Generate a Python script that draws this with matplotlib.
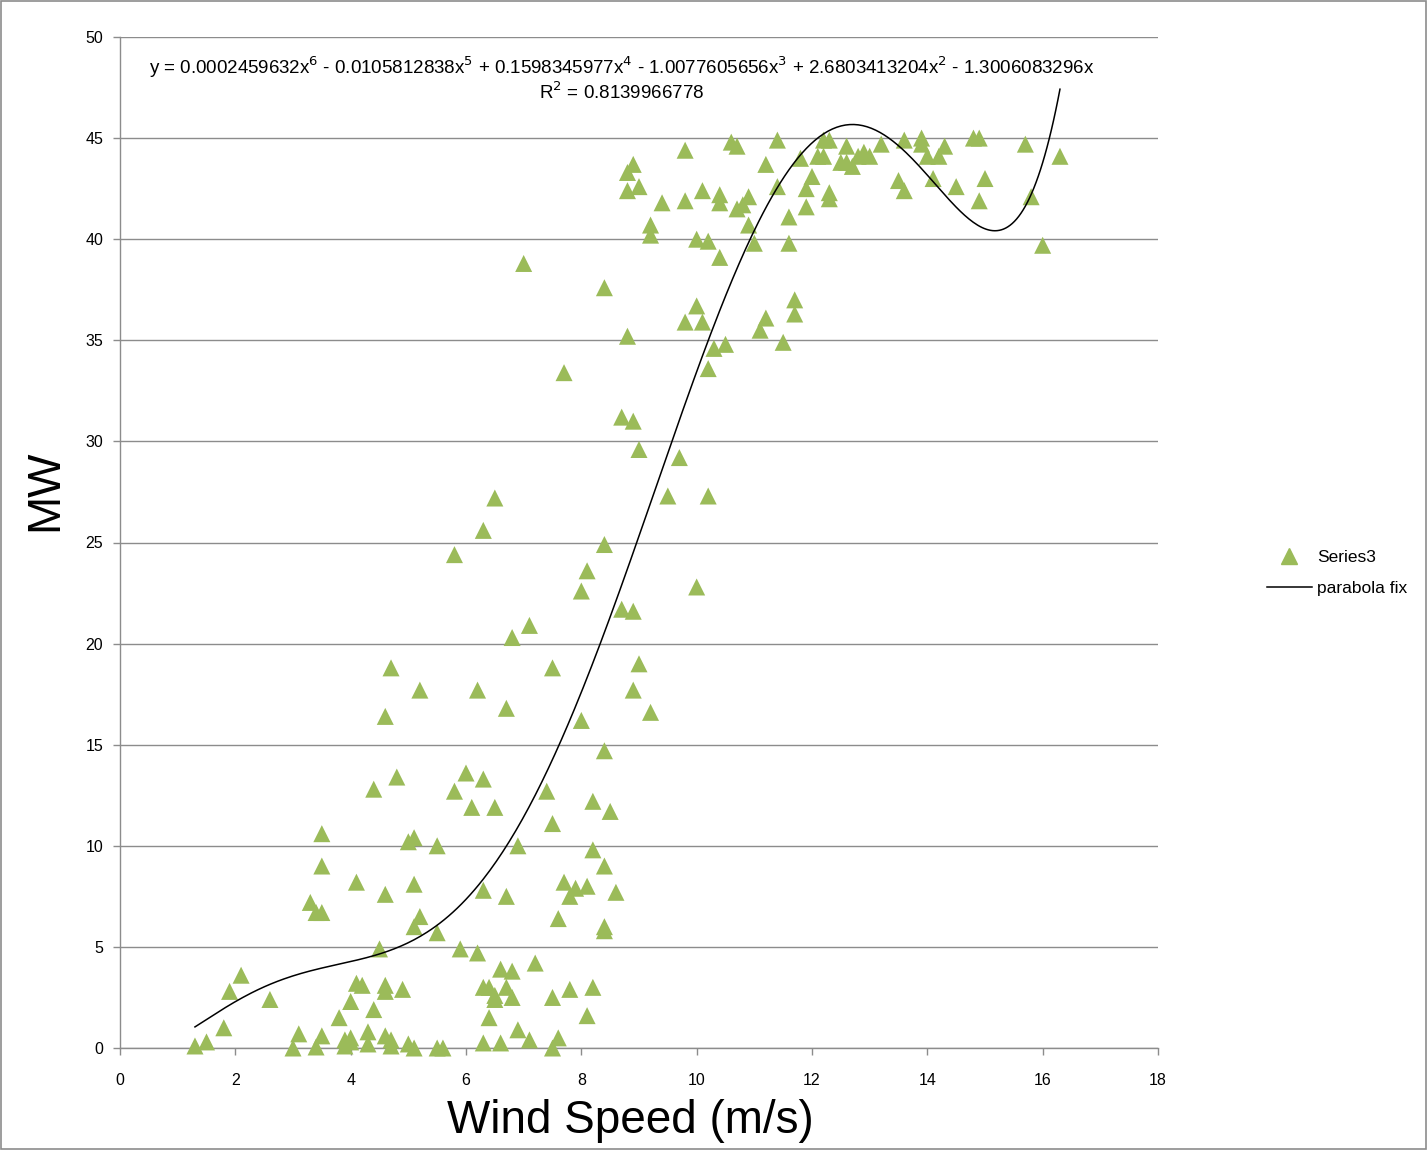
import numpy as np
import matplotlib
matplotlib.use("Agg")
import matplotlib.pyplot as plt
from matplotlib.patches import Rectangle
from matplotlib.lines import Line2D

# Data
wind_speed = [1.3, 1.5, 1.8, 1.9, 2.1, 2.6, 3.0, 3.1, 3.4, 3.5, 3.3, 3.4, 3.5, 3.5, 3.5,
              3.8, 3.9, 3.9, 4.0, 4.0, 4.0, 4.1, 4.1, 4.2, 4.3, 4.3, 4.4, 4.4, 4.5, 4.6,
              4.6, 4.6, 4.6, 4.6, 4.7, 4.7, 4.7, 4.8, 4.9, 5.0, 5.0, 5.1, 5.1, 5.1, 5.2,
              5.2, 5.1, 5.5, 5.5, 5.5, 5.6, 5.8, 5.8, 5.9, 6.0, 6.1, 6.2, 6.2, 6.3, 6.3,
              6.3, 6.3, 6.3, 6.4, 6.4, 6.5, 6.5, 6.5, 6.5, 6.6, 6.6, 6.7, 6.7, 6.7, 6.8,
              6.8, 6.8, 6.9, 6.9, 7.0, 7.1, 7.1, 7.2, 7.4, 7.5, 7.5, 7.5, 7.5, 7.6, 7.6,
              7.7, 7.7, 7.8, 7.8, 7.9, 8.0, 8.0, 8.1, 8.1, 8.1, 8.2, 8.2, 8.2, 8.4, 8.4,
              8.4, 8.4, 8.4, 8.4, 8.5, 8.6, 8.7, 8.7, 8.8, 8.8, 8.8, 8.9, 8.9, 8.9, 8.9,
              9.0, 9.0, 9.0, 9.2, 9.2, 9.2, 9.4, 9.5, 9.7, 9.8, 9.8, 9.8, 10.0, 10.0, 10.0,
              10.1, 10.1, 10.2, 10.2, 10.2, 10.3, 10.4, 10.4, 10.4, 10.5, 10.6, 10.7, 10.7,
              10.8, 10.9, 10.9, 11.0, 11.1, 11.2, 11.2, 11.4, 11.4, 11.5, 11.6, 11.6, 11.7,
              11.7, 11.8, 11.9, 11.9, 12.0, 12.1, 12.2, 12.2, 12.3, 12.3, 12.3, 12.5, 12.6,
              12.6, 12.7, 12.8, 12.9, 13.0, 13.2, 13.5, 13.6, 13.6, 13.9, 13.9, 14.0, 14.1,
              14.2, 14.3, 14.5, 14.8, 14.9, 14.9, 15.0, 15.7, 15.8, 16.0, 16.3]
power_mw = [0.1, 0.3, 1.0, 2.8, 3.6, 2.4, 0.0, 0.7, 0.05, 0.6, 7.2, 6.7, 6.7, 9.0, 10.6,
            1.5, 0.4, 0.1, 2.3, 0.3, 0.5, 8.2, 3.2, 3.1, 0.8, 0.2, 1.9, 12.8, 4.9, 7.6,
            16.4, 3.1, 2.8, 0.6, 0.4, 0.1, 18.8, 13.4, 2.9, 0.2, 10.2, 10.4, 8.1, 6.0, 6.5,
            17.7, 0.0, 10.0, 5.7, 0.0, 0.0, 24.4, 12.7, 4.9, 13.6, 11.9, 4.7, 17.7, 25.6, 7.8,
            13.3, 3.0, 0.25, 3.0, 1.5, 27.2, 11.9, 2.4, 2.6, 3.9, 0.25, 7.5, 16.8, 3.0, 20.3,
            3.8, 2.5, 10.0, 0.9, 38.8, 20.9, 0.4, 4.2, 12.7, 18.8, 11.1, 2.5, 0.0, 6.4, 0.5,
            33.4, 8.2, 7.5, 2.9, 7.9, 22.6, 16.2, 23.6, 8.0, 1.6, 12.2, 9.8, 3.0, 24.9, 37.6,
            14.7, 9.0, 6.0, 5.8, 11.7, 7.7, 31.2, 21.7, 35.2, 43.3, 42.4, 43.7, 31.0, 21.6, 17.7,
            42.6, 29.6, 19.0, 16.6, 40.7, 40.2, 41.8, 27.3, 29.2, 44.4, 41.9, 35.9, 36.7, 40.0, 22.8,
            35.9, 42.4, 39.9, 33.6, 27.3, 34.6, 41.8, 42.2, 39.1, 34.8, 44.8, 44.6, 41.5,
            41.7, 42.1, 40.7, 39.8, 35.5, 43.7, 36.1, 44.9, 42.6, 34.9, 41.1, 39.8, 37.0,
            36.3, 44.0, 42.5, 41.6, 43.1, 44.1, 44.1, 44.9, 44.9, 42.3, 42.0, 43.8, 44.6,
            43.8, 43.6, 44.1, 44.3, 44.1, 44.7, 42.9, 42.4, 44.9, 45.0, 44.7, 44.1, 43.0,
            44.1, 44.6, 42.6, 45.0, 45.0, 41.9, 43.0, 44.7, 42.1, 39.7, 44.1]

# Trendline coefficients shown on the chart (x^6 ... x^1)
coeffs = [0.0002459632, -0.0105812838, 0.1598345977, -1.0077605656, 2.6803413204, -1.3006083296, 0.0]
fit_x_range = [1.3, 16.3]
equation_text = ("y = 0.0002459632x$^{6}$ - 0.0105812838x$^{5}$ + 0.1598345977x$^{4}$ - 1.0077605656x$^{3}$ "
                 "+ 2.6803413204x$^{2}$ - 1.3006083296x")
r2_text = "R$^{2}$ = 0.8139966778"

x_ticks = [0, 2, 4, 6, 8, 10, 12, 14, 16, 18]
y_ticks = [0, 5, 10, 15, 20, 25, 30, 35, 40, 45, 50]

W, H = 1427, 1150
fig = plt.figure(figsize=(W / 100, H / 100), dpi=100)
fig.patch.set_facecolor("white")
ax = fig.add_axes([120 / W, 1 - 1048 / H, (1158 - 120) / W, (1048 - 37) / H])

green = "#9BBB59"
ax.scatter(wind_speed, power_mw, marker="^", s=150, color=green, edgecolors="none",
           zorder=3, label="Series3", clip_on=False)
xf = np.linspace(fit_x_range[0], fit_x_range[1], 400)
yf = np.polyval(coeffs, xf)
ax.plot(xf, yf, color="black", lw=1.1, zorder=4, label="parabola fix")

ax.set_xlim(0, 18)
ax.set_ylim(0, 50)
ax.set_xticks(x_ticks)
ax.set_yticks(y_ticks)
ax.yaxis.grid(True, color="#8c8c8c", lw=1.0)
ax.set_axisbelow(True)
for s in ["top", "right"]:
    ax.spines[s].set_visible(False)
for s in ["left", "bottom"]:
    ax.spines[s].set_color("#8c8c8c")
    ax.spines[s].set_linewidth(1.0)
ax.tick_params(axis="both", colors="#8c8c8c", labelcolor="black", labelsize=11.5,
               direction="out", length=5, width=1)
ax.tick_params(axis="x", pad=13)
ax.tick_params(axis="y", pad=7)
for lab in ax.get_xticklabels() + ax.get_yticklabels():
    lab.set_family(["Liberation Sans", "DejaVu Sans"])

ax.set_xlabel("Wind Speed (m/s)", fontsize=33, family=["Liberation Sans", "DejaVu Sans"], va="center")
ax.set_ylabel("MW", fontsize=33, family=["Liberation Sans", "DejaVu Sans"], va="center")
ax.xaxis.set_label_coords((630 - 120) / 1038, -(1121 - 1048) / 1011)
ax.yaxis.set_label_coords((45 - 120) / 1038, (1048 - 490) / 1011)

eqfont = ["Liberation Sans Narrow", "Liberation Sans", "DejaVu Sans"]
fig.text(622 / W, 1 - 67 / H, equation_text, ha="center", va="center", fontsize=13.5, family=eqfont)
fig.text(622 / W, 1 - 92 / H, r2_text, ha="center", va="center", fontsize=13.5, family=eqfont)

handles = [Line2D([], [], marker="^", color=green, linestyle="none", markersize=11),
           Line2D([], [], color="black", lw=1.1)]
leg = fig.legend(handles, ["Series3", "parabola fix"], loc="center left",
                 bbox_to_anchor=(1251 / W, 1 - 573 / H), frameon=False,
                 handlelength=2.6, handletextpad=0.3, labelspacing=0.9,
                 prop={"family": eqfont, "size": 12.5})

fig.patches.append(Rectangle((0.001, 0.001), 0.998, 0.998, transform=fig.transFigure,
                             fill=False, edgecolor="#8c8c8c", lw=1.2))

fig.savefig("out.png", dpi=100, facecolor="white")
